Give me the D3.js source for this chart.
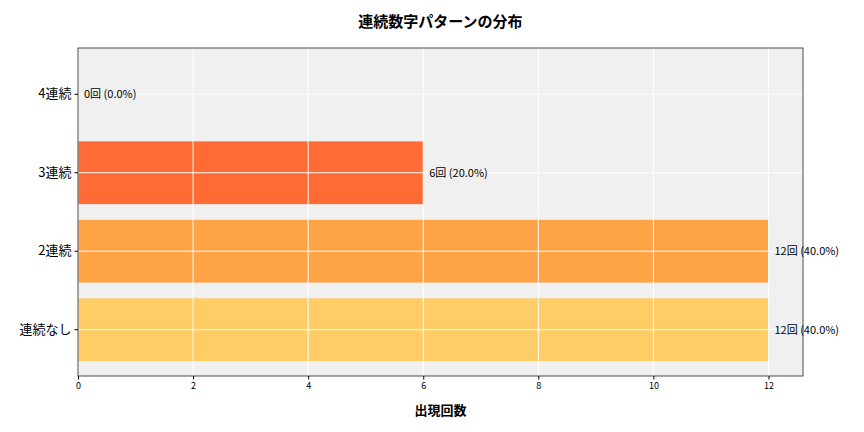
<!DOCTYPE html>
<html><head><meta charset="utf-8">
<script src="https://cdn.jsdelivr.net/npm/d3@7"></script>
<style>body{margin:0;background:#fff}text{font-family:"Noto Sans CJK JP","Noto Sans",sans-serif}</style>
</head><body>
<svg width="864" height="432"></svg>
<script>
const categories = ['4連続', '3連続', '2連続', '連続なし'];
const counts = [0, 6, 12, 12];
const percents = [0.0, 20.0, 40.0, 40.0];
const colors = ['#ff8c42', '#ff6b35', '#ffa347', '#ffcc66'];
const xticks = [0, 2, 4, 6, 8, 10, 12];

const svg = d3.select('svg');
const margin = {top: 48, left: 78, right: 61, bottom: 56};
const w = 864 - margin.left - margin.right;
const h = 432 - margin.top - margin.bottom;
const g = svg.append('g').attr('transform', `translate(${margin.left},${margin.top})`);

const x = d3.scaleLinear().domain([0, 12.6]).range([0, w]);
const y = d3.scaleBand().domain(categories).range([0, h]).paddingInner(0.2).paddingOuter(0.19);

g.append('rect').attr('width', w).attr('height', h).attr('fill', '#f0f0f0');

g.selectAll('.bar').data(categories).enter().append('rect')
  .attr('x', 0).attr('y', d => y(d))
  .attr('width', (d, i) => x(counts[i]))
  .attr('height', y.bandwidth())
  .attr('fill', (d, i) => colors[i]);

// grid on top
g.selectAll('.vg').data(xticks).enter().append('line')
  .attr('x1', d => x(d)).attr('x2', d => x(d)).attr('y1', 0).attr('y2', h)
  .attr('stroke', '#fff').attr('stroke-width', 1);
g.selectAll('.hg').data(categories).enter().append('line')
  .attr('x1', 0).attr('x2', w).attr('y1', d => y(d) + y.bandwidth() / 2).attr('y2', d => y(d) + y.bandwidth() / 2)
  .attr('stroke', '#fff').attr('stroke-width', 1);

g.append('rect').attr('width', w).attr('height', h).attr('fill', 'none').attr('stroke', '#222').attr('stroke-width', 0.8);

const xa = g.append('g').attr('transform', `translate(0,${h})`)
  .call(d3.axisBottom(x).tickValues(xticks).tickSize(3.5).tickFormat(d3.format('d')));
xa.select('.domain').remove();
xa.selectAll('text').style('font-size', '9px').attr('fill', '#000');

const ya = g.append('g').call(d3.axisLeft(y).tickSize(3.5));
ya.select('.domain').remove();
ya.selectAll('text').style('font-size', '13px').attr('fill', '#000');

g.selectAll('.lbl').data(categories).enter().append('text')
  .attr('x', (d, i) => x(counts[i]) + 6)
  .attr('y', d => y(d) + y.bandwidth() / 2)
  .attr('dy', '0.35em').style('font-size', '11px')
  .text((d, i) => `${counts[i]}回 (${percents[i].toFixed(1)}%)`);

svg.append('text').attr('x', margin.left + w / 2).attr('y', 27).attr('text-anchor', 'middle')
  .style('font-size', '15px').style('font-weight', 'bold').text('連続数字パターンの分布');
svg.append('text').attr('x', margin.left + w / 2).attr('y', 415).attr('text-anchor', 'middle')
  .style('font-size', '13px').style('font-weight', 'bold').text('出現回数');
</script>
</body></html>
